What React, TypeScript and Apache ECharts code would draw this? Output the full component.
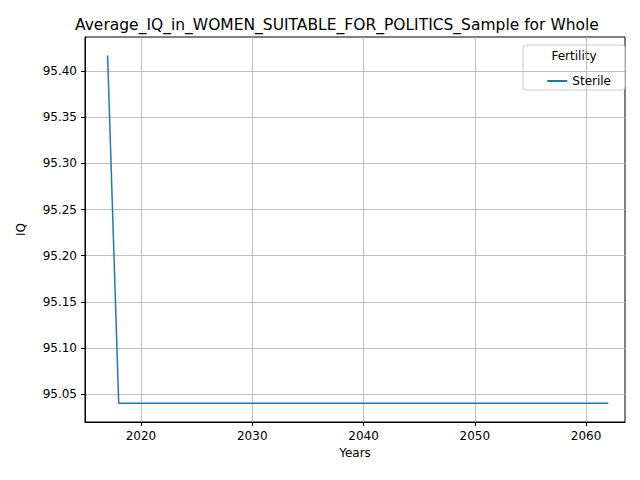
import { useEffect, useRef } from "react";
import * as echarts from "echarts";

const years = [2017, 2018, 2062];
const sterile = [95.417, 95.04, 95.04];
const xTicks = [2020, 2030, 2040, 2050, 2060];
const yTicks = [95.05, 95.1, 95.15, 95.2, 95.25, 95.3, 95.35, 95.4];

const FONT = "DejaVu Sans";

export default function App() {
  const ref = useRef<HTMLDivElement>(null);
  useEffect(() => {
    const chart = echarts.init(ref.current!, undefined, { renderer: "svg" });
    const axisCommon = {
      axisLine: { show: true, onZero: false, lineStyle: { color: "#000" } },
      axisTick: { show: true, length: 4, lineStyle: { color: "#000" } },
      axisLabel: { color: "#000", fontFamily: FONT, fontSize: 12 },
      splitLine: { show: true, lineStyle: { color: "#b0b0b0", width: 0.8 } },
      nameLocation: "middle",
      nameTextStyle: { color: "#000", fontFamily: FONT, fontSize: 12 },
    };
    chart.setOption({
      animation: false,
      title: {
        text: "Average_IQ_in_WOMEN_SUITABLE_FOR_POLITICS_Sample for Whole",
        left: 70,
        top: 12,
        textStyle: { fontFamily: FONT, fontSize: 15.5, fontWeight: "normal", color: "#000" },
      },
      grid: { left: 85, right: 15, top: 37, bottom: 58, show: true, borderColor: "#000", borderWidth: 1, backgroundColor: "transparent" },
      xAxis: {
        ...axisCommon,
        type: "value",
        min: 2014.97,
        max: 2063.5,
        name: "Years",
        nameGap: 22,
        axisTick: { ...axisCommon.axisTick, customValues: xTicks },
        axisLabel: { ...axisCommon.axisLabel, customValues: xTicks, formatter: (v: number) => String(v) },
      },
      yAxis: {
        ...axisCommon,
        type: "value",
        min: 95.0197,
        max: 95.437,
        name: "IQ",
        nameGap: 58,
        axisTick: { ...axisCommon.axisTick, customValues: yTicks },
        axisLabel: {
          ...axisCommon.axisLabel,
          customValues: yTicks,
          formatter: (v: number) => v.toFixed(2),
        },
      },
      legend: {
        right: 24,
        top: 70,
        itemWidth: 20,
        itemHeight: 2,
        icon: "rect",
        textStyle: { fontFamily: FONT, fontSize: 12, color: "#000" },
        data: ["Sterile"],
      },
      graphic: [
        {
          type: "rect",
          shape: { x: 523, y: 45, width: 102, height: 45, r: 3 },
          style: { fill: "rgba(255,255,255,0.8)", stroke: "#ccc", lineWidth: 1 },
          z: 0,
        },
        {
          type: "text",
          x: 574,
          y: 50,
          style: { text: "Fertility", fontFamily: FONT, fontSize: 12, fill: "#000", textAlign: "center" },
        },
      ],
      series: [
        {
          name: "Sterile",
          type: "line",
          showSymbol: false,
          data: years.map((y, i) => [y, sterile[i]]),
          lineStyle: { color: "#1f77b4", width: 1.5 },
          itemStyle: { color: "#1f77b4" },
        },
      ],
    });
    return () => chart.dispose();
  }, []);
  return <div ref={ref} style={{ width: 640, height: 480, margin: -8 }} />;
}
